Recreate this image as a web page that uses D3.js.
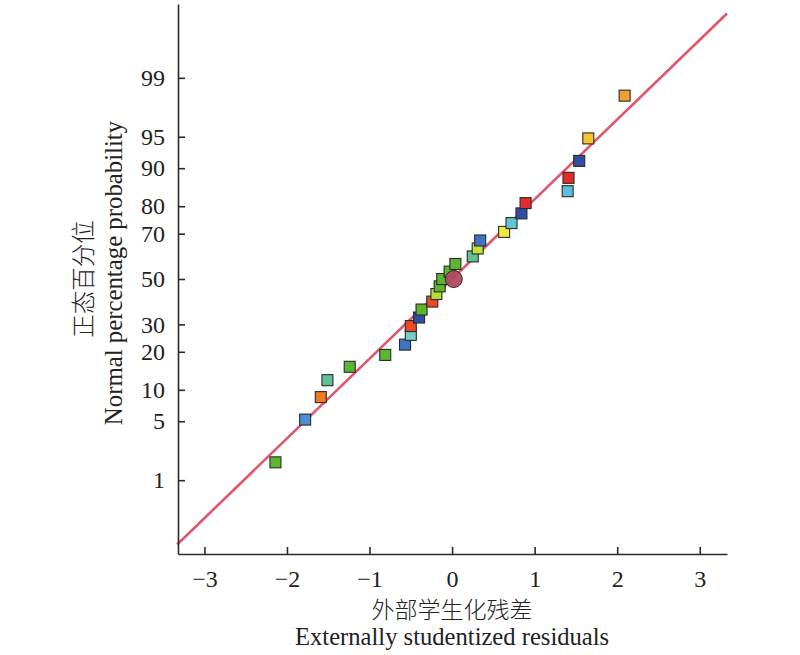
<!DOCTYPE html>
<html>
<head>
<meta charset="utf-8">
<script src="https://cdn.jsdelivr.net/npm/d3@7"></script>
<style>
  html, body { margin: 0; padding: 0; background: #fff; }
  svg { display: block; }
  text { font-family: "Liberation Serif", "Times New Roman", "Noto Sans CJK SC", serif; fill: #222; }
</style>
</head>
<body>
<svg id="chart" width="800" height="655"></svg>
<script>
// ---- data ----
const residuals = [-2.14, -1.78, -1.59, -1.51, -1.24, -0.81, -0.57, -0.50, -0.50, -0.40,
                   -0.37, -0.24, -0.19, -0.15, -0.12, -0.03, 0.04, 0.25, 0.31, 0.34,
                   0.63, 0.72, 0.84, 0.89, 1.40, 1.41, 1.54, 1.65, 2.09];
const probabilities = [1.7, 5.2, 8.6, 12.1, 15.5, 19.0, 22.4, 25.9, 29.3, 32.8,
                       36.2, 39.7, 43.1, 46.6, 50.0, 53.4, 56.9, 60.3, 63.8, 67.2,
                       70.7, 74.1, 77.6, 81.0, 84.5, 87.9, 91.4, 94.8, 98.3];
const pointColors = ["#5cb531", "#4a8fd4", "#ef7a22", "#5ec294", "#5cb531", "#5cb531", "#3f74c4", "#72d0c4", "#ec4a24", "#2e4ea6",
                     "#5cb531", "#ec4a24", "#b5dc38", "#5cb531", "#5cb531", "#5cb531", "#5cb531", "#5ec294", "#c2e03a", "#3f74c4",
                     "#eee83a", "#62c6d2", "#2e4ea6", "#e42a2a", "#5cbfe0", "#e42a2a", "#2e4ea6", "#f2c430", "#f0a02e"];
const highlightPoint = { x: 0.02, p: 50.0 };
const fitX = [-3.33, 3.33];
const fitP = [0.107, 99.893];
const xTicks = [-3, -2, -1, 0, 1, 2, 3];
const yTicks = [1, 5, 10, 20, 30, 50, 70, 80, 90, 95, 99];
const xTitleCN = "外部学生化残差";
const xTitleEN = "Externally studentized residuals";
const yTitleCN = "正态百分位";
const yTitleEN = "Normal percentage probability";

// inverse standard normal CDF (Acklam)
function probit(p) {
  const a = [-3.969683028665376e+01, 2.209460984245205e+02, -2.759285104469687e+02, 1.383577518672690e+02, -3.066479806614716e+01, 2.506628277459239e+00];
  const b = [-5.447609879822406e+01, 1.615858368580409e+02, -1.556989798598866e+02, 6.680131188771972e+01, -1.328068155288572e+01];
  const c = [-7.784894002430293e-03, -3.223964580411365e-01, -2.400758277161838e+00, -2.549732539343734e+00, 4.374664141464968e+00, 2.938163982698783e+00];
  const d = [7.784695709041462e-03, 3.224671290700398e-01, 2.445134137142996e+00, 3.754408661907416e+00];
  const pl = 0.02425, ph = 1 - pl;
  let q, r;
  if (p < pl) { q = Math.sqrt(-2 * Math.log(p));
    return (((((c[0]*q+c[1])*q+c[2])*q+c[3])*q+c[4])*q+c[5]) / ((((d[0]*q+d[1])*q+d[2])*q+d[3])*q+1); }
  if (p <= ph) { q = p - 0.5; r = q*q;
    return (((((a[0]*r+a[1])*r+a[2])*r+a[3])*r+a[4])*r+a[5])*q / (((((b[0]*r+b[1])*r+b[2])*r+b[3])*r+b[4])*r+1); }
  q = Math.sqrt(-2 * Math.log(1 - p));
  return -(((((c[0]*q+c[1])*q+c[2])*q+c[3])*q+c[4])*q+c[5]) / ((((d[0]*q+d[1])*q+d[2])*q+d[3])*q+1);
}

(function () {
const svg = d3.select("#chart");
const mLeft = 178, mRight = 727, mTop = 4, mBottom = 554;

const x = d3.scaleLinear().domain([-3.32, 3.33]).range([mLeft, mRight]);
const yz = d3.scaleLinear().domain([-3.18, 3.18]).range([mBottom, mTop]);
const yP = p => yz(probit(p / 100));

// fit line
svg.append("line")
  .attr("x1", x(fitX[0])).attr("y1", yP(fitP[0]))
  .attr("x2", x(fitX[1])).attr("y2", yP(fitP[1]))
  .attr("stroke", "#e0566c").attr("stroke-width", 2.6);

// axes
const axisColor = "#2a2a2a";
const gx = svg.append("g").attr("transform", `translate(0,${mBottom})`)
  .call(d3.axisBottom(x).tickValues(xTicks).tickSizeInner(-7).tickSizeOuter(0).tickPadding(16)
    .tickFormat(d => d < 0 ? "\u2212" + Math.abs(d) : String(d)));
const gy = svg.append("g").attr("transform", `translate(${mLeft},0)`)
  .call(d3.axisLeft(yz).tickValues(yTicks.map(p => probit(p / 100))).tickSizeInner(-7).tickSizeOuter(0).tickPadding(13)
    .tickFormat((d, i) => String(yTicks[i])));
[gx, gy].forEach(g => {
  g.select(".domain").attr("stroke", axisColor).attr("stroke-width", 1.6);
  g.selectAll(".tick line").attr("stroke", axisColor).attr("stroke-width", 1.6);
  g.selectAll(".tick text").attr("font-family", "Liberation Serif, serif").attr("font-size", 24).attr("fill", "#222");
});

// points
const pts = residuals.map((r, i) => ({ x: r, p: probabilities[i], c: pointColors[i] }));
const s = 11;
svg.append("g").selectAll("rect").data(pts).join("rect")
  .attr("x", d => x(d.x) - s / 2).attr("y", d => yP(d.p) - s / 2)
  .attr("width", s).attr("height", s)
  .attr("fill", d => d.c).attr("stroke", "#2a2a2a").attr("stroke-width", 1.1);

svg.append("circle")
  .attr("cx", x(highlightPoint.x)).attr("cy", yP(highlightPoint.p)).attr("r", 8.5)
  .attr("fill", "#b04a62").attr("stroke", "#3a2028").attr("stroke-width", 1)
  .attr("fill-opacity", 0.95);

// titles
svg.append("text").attr("x", x(0)).attr("y", 618).attr("text-anchor", "middle")
  .attr("font-size", 23).attr("font-family", "Noto Sans CJK SC, sans-serif").attr("font-weight", 300).text(xTitleCN);
svg.append("text").attr("x", x(0)).attr("y", 645).attr("text-anchor", "middle")
  .attr("font-size", 24.6).text(xTitleEN);

svg.append("text").attr("transform", `translate(92,279) rotate(-90)`).attr("text-anchor", "middle")
  .attr("font-size", 23.5).attr("font-family", "Noto Sans CJK SC, sans-serif").attr("font-weight", 300).text(yTitleCN);
svg.append("text").attr("transform", `translate(122,273) rotate(-90)`).attr("text-anchor", "middle")
  .attr("font-size", 24.8).text(yTitleEN);
})();
</script>
</body>
</html>
